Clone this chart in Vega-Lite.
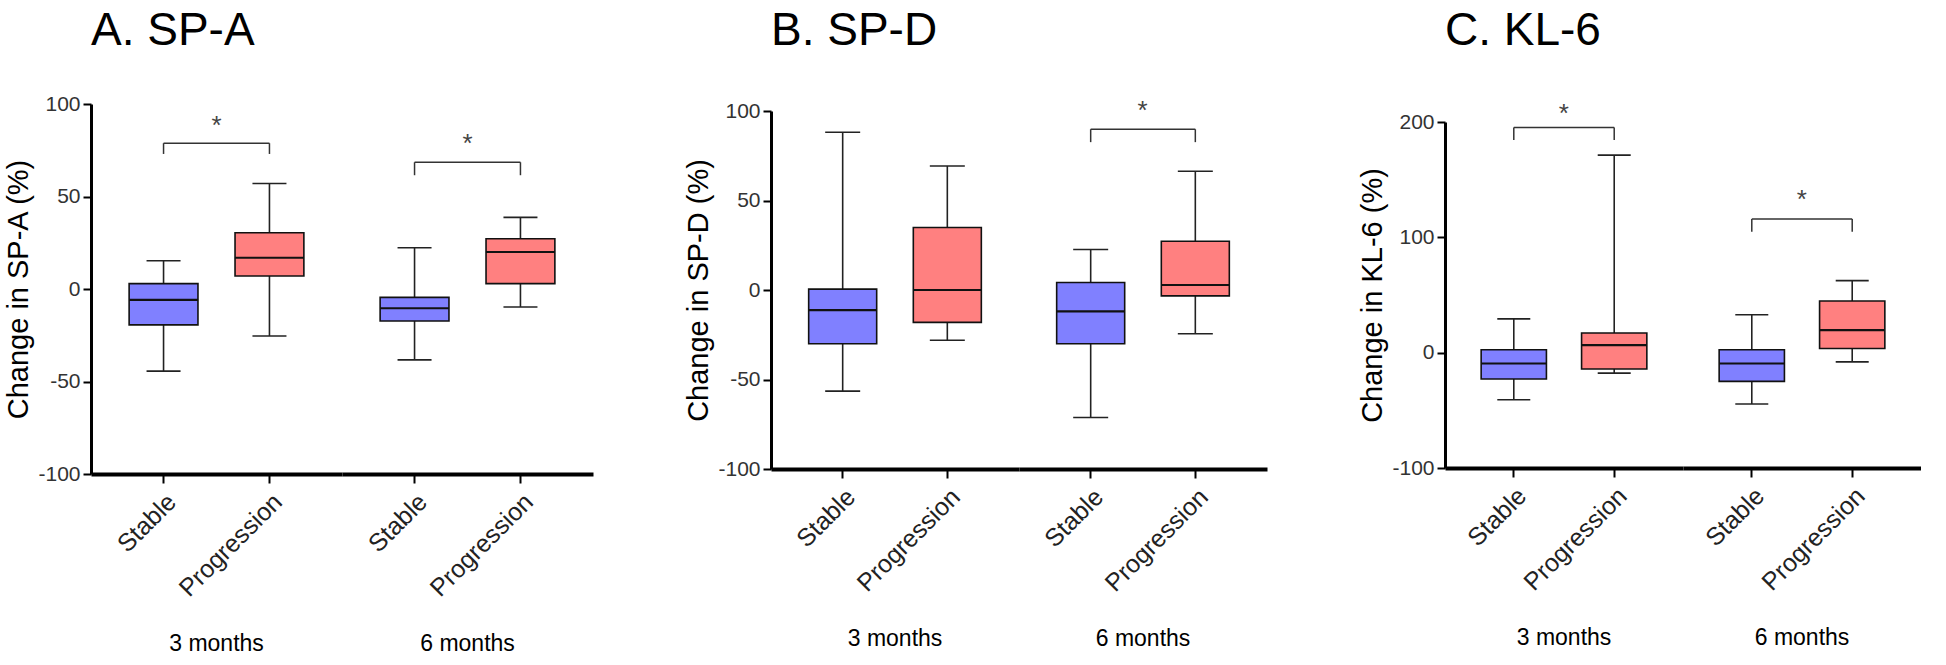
{
  "$schema": "https://vega.github.io/schema/vega-lite/v6.json",
  "background": "white",
  "padding": {"left": 4, "top": 8, "right": 0, "bottom": 0},
  "spacing": 91,
  "config": {
    "view": {"stroke": null},
    "font": "Liberation Sans",
    "axis": {
      "grid": false,
      "domainColor": "black",
      "domainWidth": 3,
      "tickColor": "black",
      "tickWidth": 2,
      "tickSize": 8,
      "labelFont": "Liberation Sans",
      "labelFontSize": 21,
      "labelColor": "#333333",
      "titleFont": "Liberation Sans",
      "titleFontSize": 29,
      "titleFontWeight": "normal",
      "titleColor": "black",
      "titlePadding": 4,
      "labelPadding": 3
    },
    "axisY": {"labelExpr": "'' + datum.value"},
    "axisX": {
      "labelAngle": -45,
      "labelFontSize": 25,
      "labelColor": "#222222",
      "domainWidth": 4,
      "tickSize": 9,
      "labelPadding": 6,
      "title": null
    },
    "header": {
      "labelOrient": "bottom",
      "labelFont": "Liberation Sans",
      "labelFontSize": 23,
      "labelColor": "black",
      "labelPadding": 32,
      "title": null
    },
    "title": {
      "anchor": "start",
      "frame": "group",
      "font": "Liberation Sans",
      "fontSize": 46,
      "fontWeight": "normal",
      "color": "black",
      "offset": 8
    },
    "concat": {"spacing": 0}
  },
  "datasets": {
    "spa": [
      {"kind": "box", "month": "3 months", "group": "Stable", "lo": -44.4, "q1": -19.4, "med": -5.9, "q3": 2.9, "hi": 15.3},
      {"kind": "box", "month": "3 months", "group": "Progression", "lo": -25.4, "q1": 7, "med": 16.9, "q3": 30.4, "hi": 57},
      {"kind": "box", "month": "6 months", "group": "Stable", "lo": -38.3, "q1": -17.3, "med": -10.4, "q3": -4.5, "hi": 22.3},
      {"kind": "box", "month": "6 months", "group": "Progression", "lo": -9.7, "q1": 2.9, "med": 20, "q3": 27.2, "hi": 38.7},
      {"kind": "bracket", "month": "3 months", "top": 78.8, "leg": 73, "star": 88.3, "label": "*"},
      {"kind": "bracket", "month": "6 months", "top": 68.5, "leg": 61.5, "star": 78.2, "label": "*"}
    ],
    "spd": [
      {"kind": "box", "month": "3 months", "group": "Stable", "lo": -56.5, "q1": -30, "med": -11.2, "q3": 0.5, "hi": 88.1},
      {"kind": "box", "month": "3 months", "group": "Progression", "lo": -28.1, "q1": -18.1, "med": 0, "q3": 34.9, "hi": 69.3},
      {"kind": "box", "month": "6 months", "group": "Stable", "lo": -71.2, "q1": -30, "med": -11.9, "q3": 4.2, "hi": 22.6},
      {"kind": "box", "month": "6 months", "group": "Progression", "lo": -24.4, "q1": -3.3, "med": 2.8, "q3": 27.2, "hi": 66.3},
      {"kind": "bracket", "month": "6 months", "top": 89.8, "leg": 82.6, "star": 99.8, "label": "*"}
    ],
    "kl6": [
      {"kind": "box", "month": "3 months", "group": "Stable", "lo": -40.8, "q1": -22.8, "med": -9.4, "q3": 2.5, "hi": 29.3},
      {"kind": "box", "month": "3 months", "group": "Progression", "lo": -17.7, "q1": -14.1, "med": 6.5, "q3": 17, "hi": 171.3},
      {"kind": "box", "month": "6 months", "group": "Stable", "lo": -44.5, "q1": -24.9, "med": -9.4, "q3": 2.5, "hi": 32.9},
      {"kind": "box", "month": "6 months", "group": "Progression", "lo": -8, "q1": 3.6, "med": 19.5, "q3": 44.8, "hi": 62.5},
      {"kind": "bracket", "month": "3 months", "top": 195.2, "leg": 184.3, "star": 206.9, "label": "*"},
      {"kind": "bracket", "month": "6 months", "top": 116, "leg": 104.8, "star": 132.1, "label": "*"}
    ]
  },
  "hconcat": [
    {
      "title": {"text": "A. SP-A"},
      "vconcat": [
        {"height": 30, "width": 10, "data": {"values": []}, "mark": "point"},
        {
          "data": {"name": "spa"},
          "facet": {"column": {"field": "month", "type": "nominal", "sort": ["3 months", "6 months"]}},
          "spacing": 0,
          "spec": {
            "width": 251,
            "height": 370,
            "encoding": {
              "x": {"field": "group", "type": "nominal", "sort": ["Stable", "Progression"], "scale": {"domain": ["Stable", "Progression"], "paddingInner": 0.35, "paddingOuter": 0.36}, "title": null}
            },
            "layer": [
              {
                "transform": [{"filter": "datum.kind == 'box'"}],
                "mark": {"type": "rule", "color": "#222222", "strokeWidth": 1.6},
                "encoding": {
                  "y": {"field": "lo", "type": "quantitative", "scale": {"domain": [-100, 100], "nice": false, "zero": false}, "axis": {"values": [-100, -50, 0, 50, 100]}, "title": "Change in SP-A (%)"},
                  "y2": {"field": "hi"}
                }
              },
              {
                "transform": [{"filter": "datum.kind == 'box'"}],
                "mark": {"type": "bar", "stroke": "#111111", "strokeWidth": 1.6, "opacity": 1},
                "encoding": {
                  "y": {"field": "q1", "type": "quantitative", "title": "Change in SP-A (%)"},
                  "y2": {"field": "q3"},
                  "color": {"field": "group", "type": "nominal", "scale": {"domain": ["Stable", "Progression"], "range": ["#8080FF", "#FF8080"]}, "legend": null}
                }
              },
              {
                "transform": [{"filter": "datum.kind == 'box'"}],
                "mark": {"type": "tick", "color": "#111111", "size": 69, "thickness": 2.2, "opacity": 1},
                "encoding": {"y": {"field": "med", "type": "quantitative", "title": "Change in SP-A (%)"}}
              },
              {
                "transform": [{"filter": "datum.kind == 'box'"}],
                "mark": {"type": "tick", "color": "#222222", "size": 34, "thickness": 1.6, "opacity": 1},
                "encoding": {"y": {"field": "lo", "type": "quantitative", "title": "Change in SP-A (%)"}}
              },
              {
                "transform": [{"filter": "datum.kind == 'box'"}],
                "mark": {"type": "tick", "color": "#222222", "size": 34, "thickness": 1.6, "opacity": 1},
                "encoding": {"y": {"field": "hi", "type": "quantitative", "title": "Change in SP-A (%)"}}
              },
              {
                "transform": [{"filter": "datum.kind == 'bracket'"}],
                "mark": {"type": "rule", "color": "#333333", "strokeWidth": 1.5},
                "encoding": {
                  "x": {"datum": "Stable", "type": "nominal"},
                  "x2": {"datum": "Progression"},
                  "y": {"field": "top", "type": "quantitative", "title": "Change in SP-A (%)"}
                }
              },
              {
                "transform": [{"filter": "datum.kind == 'bracket'"}],
                "mark": {"type": "rule", "color": "#333333", "strokeWidth": 1.5},
                "encoding": {
                  "x": {"datum": "Stable", "type": "nominal"},
                  "y": {"field": "top", "type": "quantitative", "title": "Change in SP-A (%)"},
                  "y2": {"field": "leg"}
                }
              },
              {
                "transform": [{"filter": "datum.kind == 'bracket'"}],
                "mark": {"type": "rule", "color": "#333333", "strokeWidth": 1.5},
                "encoding": {
                  "x": {"datum": "Progression", "type": "nominal"},
                  "y": {"field": "top", "type": "quantitative", "title": "Change in SP-A (%)"},
                  "y2": {"field": "leg"}
                }
              },
              {
                "transform": [{"filter": "datum.kind == 'bracket'"}],
                "mark": {"type": "text", "fontSize": 26, "color": "#444444", "baseline": "middle", "align": "center", "dx": 53},
                "encoding": {
                  "x": {"datum": "Stable", "type": "nominal"},
                  "y": {"field": "star", "type": "quantitative", "title": "Change in SP-A (%)"},
                  "text": {"field": "label"}
                }
              }
            ]
          }
        }
      ]
    },
    {
      "title": {"text": "B. SP-D"},
      "vconcat": [
        {"height": 35, "width": 10, "data": {"values": []}, "mark": "point"},
        {
          "data": {"name": "spd"},
          "facet": {"column": {"field": "month", "type": "nominal", "sort": ["3 months", "6 months"]}},
          "spacing": 0,
          "spec": {
            "width": 248,
            "height": 358,
            "encoding": {
              "x": {"field": "group", "type": "nominal", "sort": ["Stable", "Progression"], "scale": {"domain": ["Stable", "Progression"], "paddingInner": 0.35, "paddingOuter": 0.36}, "title": null}
            },
            "layer": [
              {
                "transform": [{"filter": "datum.kind == 'box'"}],
                "mark": {"type": "rule", "color": "#222222", "strokeWidth": 1.6},
                "encoding": {
                  "y": {"field": "lo", "type": "quantitative", "scale": {"domain": [-100, 100], "nice": false, "zero": false}, "axis": {"values": [-100, -50, 0, 50, 100]}, "title": "Change in SP-D (%)"},
                  "y2": {"field": "hi"}
                }
              },
              {
                "transform": [{"filter": "datum.kind == 'box'"}],
                "mark": {"type": "bar", "stroke": "#111111", "strokeWidth": 1.6, "opacity": 1},
                "encoding": {
                  "y": {"field": "q1", "type": "quantitative", "title": "Change in SP-D (%)"},
                  "y2": {"field": "q3"},
                  "color": {"field": "group", "type": "nominal", "scale": {"domain": ["Stable", "Progression"], "range": ["#8080FF", "#FF8080"]}, "legend": null}
                }
              },
              {
                "transform": [{"filter": "datum.kind == 'box'"}],
                "mark": {"type": "tick", "color": "#111111", "size": 68, "thickness": 2.2, "opacity": 1},
                "encoding": {"y": {"field": "med", "type": "quantitative", "title": "Change in SP-D (%)"}}
              },
              {
                "transform": [{"filter": "datum.kind == 'box'"}],
                "mark": {"type": "tick", "color": "#222222", "size": 35, "thickness": 1.6, "opacity": 1},
                "encoding": {"y": {"field": "lo", "type": "quantitative", "title": "Change in SP-D (%)"}}
              },
              {
                "transform": [{"filter": "datum.kind == 'box'"}],
                "mark": {"type": "tick", "color": "#222222", "size": 35, "thickness": 1.6, "opacity": 1},
                "encoding": {"y": {"field": "hi", "type": "quantitative", "title": "Change in SP-D (%)"}}
              },
              {
                "transform": [{"filter": "datum.kind == 'bracket'"}],
                "mark": {"type": "rule", "color": "#333333", "strokeWidth": 1.5},
                "encoding": {
                  "x": {"datum": "Stable", "type": "nominal"},
                  "x2": {"datum": "Progression"},
                  "y": {"field": "top", "type": "quantitative", "title": "Change in SP-D (%)"}
                }
              },
              {
                "transform": [{"filter": "datum.kind == 'bracket'"}],
                "mark": {"type": "rule", "color": "#333333", "strokeWidth": 1.5},
                "encoding": {
                  "x": {"datum": "Stable", "type": "nominal"},
                  "y": {"field": "top", "type": "quantitative", "title": "Change in SP-D (%)"},
                  "y2": {"field": "leg"}
                }
              },
              {
                "transform": [{"filter": "datum.kind == 'bracket'"}],
                "mark": {"type": "rule", "color": "#333333", "strokeWidth": 1.5},
                "encoding": {
                  "x": {"datum": "Progression", "type": "nominal"},
                  "y": {"field": "top", "type": "quantitative", "title": "Change in SP-D (%)"},
                  "y2": {"field": "leg"}
                }
              },
              {
                "transform": [{"filter": "datum.kind == 'bracket'"}],
                "mark": {"type": "text", "fontSize": 26, "color": "#444444", "baseline": "middle", "align": "center", "dx": 52},
                "encoding": {
                  "x": {"datum": "Stable", "type": "nominal"},
                  "y": {"field": "star", "type": "quantitative", "title": "Change in SP-D (%)"},
                  "text": {"field": "label"}
                }
              }
            ]
          }
        }
      ]
    },
    {
      "title": {"text": "C. KL-6"},
      "vconcat": [
        {"height": 38, "width": 10, "data": {"values": []}, "mark": "point"},
        {
          "data": {"name": "kl6"},
          "facet": {"column": {"field": "month", "type": "nominal", "sort": ["3 months", "6 months"]}},
          "spacing": 0,
          "spec": {
            "width": 238,
            "height": 346,
            "encoding": {
              "x": {"field": "group", "type": "nominal", "sort": ["Stable", "Progression"], "scale": {"domain": ["Stable", "Progression"], "paddingInner": 0.35, "paddingOuter": 0.36}, "title": null}
            },
            "layer": [
              {
                "transform": [{"filter": "datum.kind == 'box'"}],
                "mark": {"type": "rule", "color": "#222222", "strokeWidth": 1.6},
                "encoding": {
                  "y": {"field": "lo", "type": "quantitative", "scale": {"domain": [-100, 200], "nice": false, "zero": false}, "axis": {"values": [-100, 0, 100, 200]}, "title": "Change in KL-6 (%)"},
                  "y2": {"field": "hi"}
                }
              },
              {
                "transform": [{"filter": "datum.kind == 'box'"}],
                "mark": {"type": "bar", "stroke": "#111111", "strokeWidth": 1.6, "opacity": 1},
                "encoding": {
                  "y": {"field": "q1", "type": "quantitative", "title": "Change in KL-6 (%)"},
                  "y2": {"field": "q3"},
                  "color": {"field": "group", "type": "nominal", "scale": {"domain": ["Stable", "Progression"], "range": ["#8080FF", "#FF8080"]}, "legend": null}
                }
              },
              {
                "transform": [{"filter": "datum.kind == 'box'"}],
                "mark": {"type": "tick", "color": "#111111", "size": 65, "thickness": 2.2, "opacity": 1},
                "encoding": {"y": {"field": "med", "type": "quantitative", "title": "Change in KL-6 (%)"}}
              },
              {
                "transform": [{"filter": "datum.kind == 'box'"}],
                "mark": {"type": "tick", "color": "#222222", "size": 33, "thickness": 1.6, "opacity": 1},
                "encoding": {"y": {"field": "lo", "type": "quantitative", "title": "Change in KL-6 (%)"}}
              },
              {
                "transform": [{"filter": "datum.kind == 'box'"}],
                "mark": {"type": "tick", "color": "#222222", "size": 33, "thickness": 1.6, "opacity": 1},
                "encoding": {"y": {"field": "hi", "type": "quantitative", "title": "Change in KL-6 (%)"}}
              },
              {
                "transform": [{"filter": "datum.kind == 'bracket'"}],
                "mark": {"type": "rule", "color": "#333333", "strokeWidth": 1.5},
                "encoding": {
                  "x": {"datum": "Stable", "type": "nominal"},
                  "x2": {"datum": "Progression"},
                  "y": {"field": "top", "type": "quantitative", "title": "Change in KL-6 (%)"}
                }
              },
              {
                "transform": [{"filter": "datum.kind == 'bracket'"}],
                "mark": {"type": "rule", "color": "#333333", "strokeWidth": 1.5},
                "encoding": {
                  "x": {"datum": "Stable", "type": "nominal"},
                  "y": {"field": "top", "type": "quantitative", "title": "Change in KL-6 (%)"},
                  "y2": {"field": "leg"}
                }
              },
              {
                "transform": [{"filter": "datum.kind == 'bracket'"}],
                "mark": {"type": "rule", "color": "#333333", "strokeWidth": 1.5},
                "encoding": {
                  "x": {"datum": "Progression", "type": "nominal"},
                  "y": {"field": "top", "type": "quantitative", "title": "Change in KL-6 (%)"},
                  "y2": {"field": "leg"}
                }
              },
              {
                "transform": [{"filter": "datum.kind == 'bracket'"}],
                "mark": {"type": "text", "fontSize": 26, "color": "#444444", "baseline": "middle", "align": "center", "dx": 50},
                "encoding": {
                  "x": {"datum": "Stable", "type": "nominal"},
                  "y": {"field": "star", "type": "quantitative", "title": "Change in KL-6 (%)"},
                  "text": {"field": "label"}
                }
              }
            ]
          }
        }
      ]
    }
  ]
}
